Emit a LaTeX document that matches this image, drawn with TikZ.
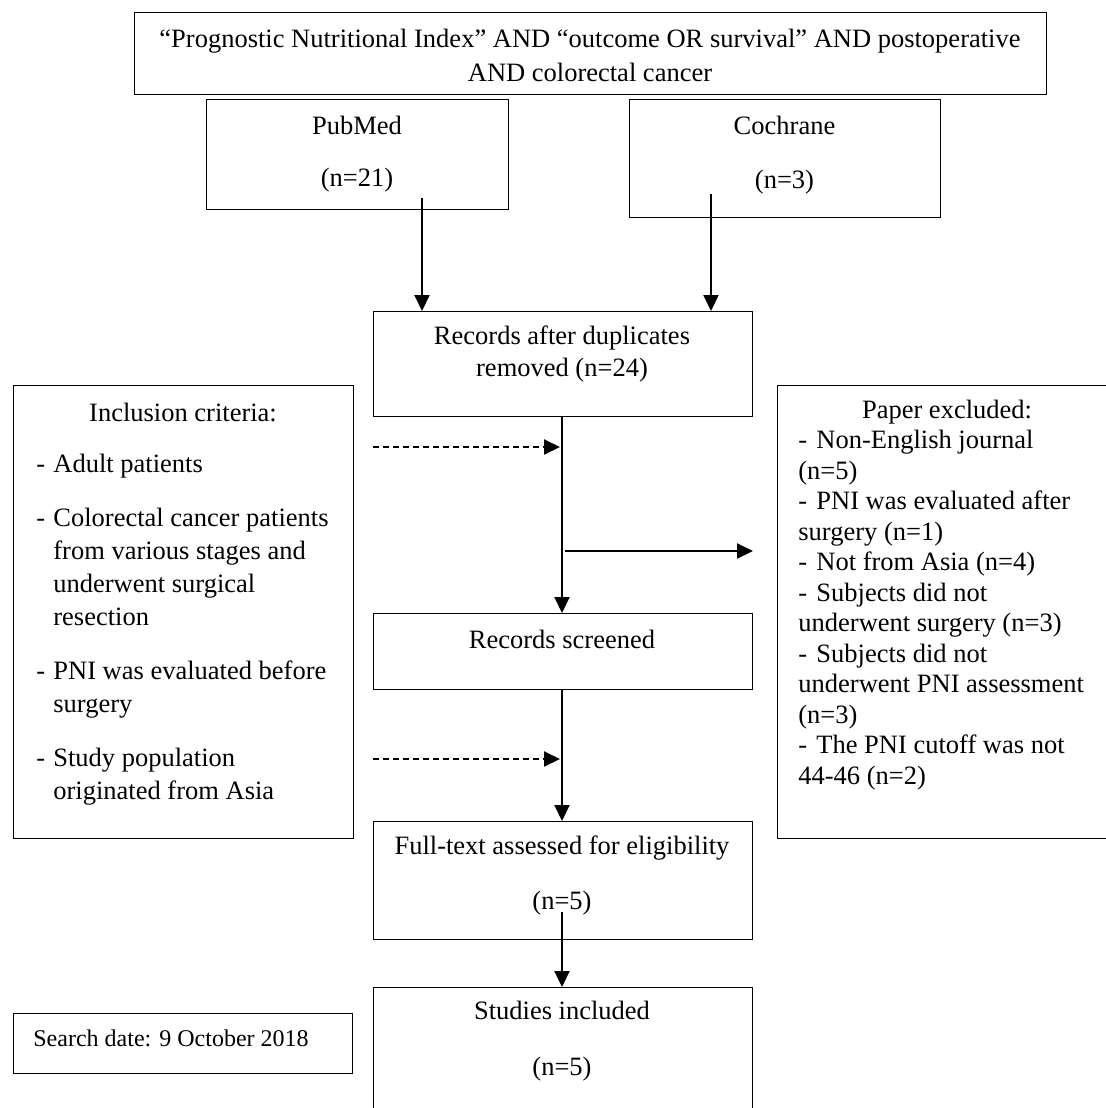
\documentclass[tikz,border=0pt]{standalone}
\usepackage{fontspec}
\setmainfont{Liberation Serif}
\usetikzlibrary{arrows.meta}
\newcommand\mybox[5]{\node[box, minimum width={(#4-#2)*0.5pt}, minimum height={(#5-#3)*0.5pt}] (#1) at (#2,#3) {};}
\newcommand\dsh{\makebox[9pt][l]{-}}
\newcommand\idsh{\makebox[8.5pt][l]{-}}
\begin{document}
\begin{tikzpicture}[x=0.5pt,y=-0.5pt,
  box/.style={draw, line width=0.6pt, inner sep=0pt, anchor=north west},
  txt/.style={inner sep=0pt, align=center, font=\fontsize{13.25}{16}\selectfont},
  ltxt/.style={inner sep=0pt, align=left, anchor=west, font=\fontsize{13.25}{15.25}\selectfont},
  arr/.style={line width=1pt, -{Triangle[length=8pt,width=7.5pt]}},
  darr/.style={arr, dash pattern=on 3pt off 2pt}]
\useasboundingbox (0,0) rectangle (1105,1108);
% boxes
\mybox{top}{134}{12}{1046}{94}
\mybox{pub}{206}{99}{508}{209}
\mybox{coch}{629}{99}{940}{217}
\mybox{rec}{373}{311}{752}{416}
\mybox{incl}{13}{385}{353}{838}
\mybox{excl}{777}{385}{1117}{838}
\mybox{scr}{373}{613}{752}{689}
\mybox{full}{373}{821}{752}{939}
\mybox{stud}{373}{987}{752}{1120}
\mybox{search}{13}{1013}{352}{1073}
% texts
\node[txt, font=\fontsize{13.25}{17}\selectfont] (topT) at (590,55) {“Prognostic Nutritional Index” AND “outcome OR survival” AND postoperative\\AND colorectal cancer};
\node[txt] (pubT) at (357,154) {PubMed\\[10pt](n=21)};
\node[txt] (cochT) at (784.5,155) {Cochrane\\[11pt](n=3)};
\node[txt] (recT) at (562,354) {Records after duplicates\\removed (n=24)};
\node[txt] (inclT) at (183,412) {Inclusion criteria:};
\node[ltxt, font=\fontsize{13.25}{16.5}\selectfont] (inclL) at (36,630) {\idsh Adult patients\\[10.5pt]
\idsh Colorectal cancer patients\\
\hspace*{8.5pt}from various stages and\\
\hspace*{8.5pt}underwent surgical\\
\hspace*{8.5pt}resection\\[10.5pt]
\idsh PNI was evaluated before\\
\hspace*{8.5pt}surgery\\[10.5pt]
\idsh Study population\\
\hspace*{8.5pt}originated from Asia};
\node[txt] (exclT) at (947,412) {Paper excluded:};
\node[ltxt] (exclL) at (798,610) {\dsh Non-English journal\\
(n=5)\\
\dsh PNI was evaluated after\\
surgery (n=1)\\
\dsh Not from Asia (n=4)\\
\dsh Subjects did not\\
underwent surgery (n=3)\\
\dsh Subjects did not\\
underwent PNI assessment\\
(n=3)\\
\dsh The PNI cutoff was not\\
44-46 (n=2)};
\node[txt] (scrT) at (562,639) {Records screened};
\node[txt] (fullT) at (562,875.5) {Full-text assessed for eligibility\\[11.5pt](n=5)};
\node[txt] (studT) at (562,1041) {Studies included\\[12pt](n=5)};
\node[ltxt, font=\fontsize{12}{14}\selectfont] (searchT) at (33,1038) {Search date: 9 October 2018};
% connectors
\coordinate (pubA) at (422,198);
\coordinate (cochA) at (711,194);
\coordinate (recX) at (562,416);
\coordinate (hStart) at (565,551);
\coordinate (hEnd) at (753,551);
\coordinate (d1s) at (373,447);
\coordinate (d1e) at (560,447);
\coordinate (d2s) at (373,759);
\coordinate (d2e) at (560,759);
\coordinate (fullA) at (562,912);
\draw[arr] (pubA) -- (pubA |- rec.north);
\draw[arr] (cochA) -- (cochA |- rec.north);
\draw[arr] (recX) -- (recX |- scr.north);
\draw[arr] (hStart) -- (hEnd);
\draw[darr] (d1s) -- (d1e);
\draw[darr] (d2s) -- (d2e);
\draw[arr] (recX |- scr.south) -- (recX |- full.north);
\draw[arr] (fullA) -- (fullA |- stud.north);
\end{tikzpicture}
\end{document}
